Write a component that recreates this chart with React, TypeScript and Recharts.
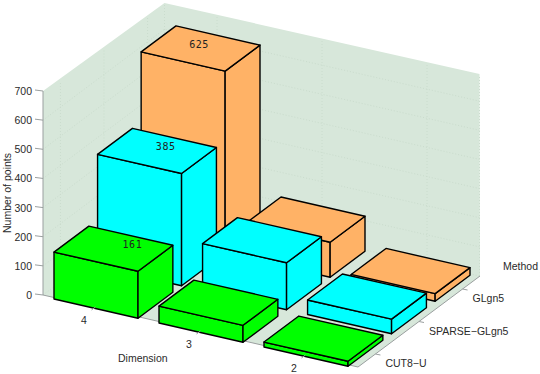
import { BarChart, Bar, XAxis, YAxis, CartesianGrid } from 'recharts';

// values
const dimensions = ['4', '3', '2'];
const methods = ['CUT8\u2212U', 'SPARSE\u2212GLgn5', 'GLgn5'];
const cut8u = [161, 58, 17];
const sparse = [385, 161, 50];
const glgn5 = [625, 120, 26];
const valueTicks = [0, 100, 200, 300, 400, 500, 600, 700];

const tableData = dimensions.map((dimension, i) => ({
  dimension,
  cut8u: cut8u[i],
  sparse: sparse[i],
  glgn5: glgn5[i]
}));

// plot rect: bars come out of the band/linear scales here, then get sheared into the 3D view
const LEFT = 43;
const TOP = 91;
const PLOT_W = 315;
const PLOT_H = 204;
const BAR_W = 84;
const SHEAR = 72 / 315; // floor drop per px along the dimension axis
const STEP_X = 43.57; // one method row on screen
const STEP_Y = -32.5;
const DEPTH = 0.8;
const BAR_DROP = 1.5;
const WALL_X = 121.5; // back corner relative to the left corner
const WALL_Y = -91;
const SIDE_X = 437; // end of the floor's method edge, from the left corner
const SIDE_Y = -19;

const INK = '#2a2a2a';
const AXIS = '#9a9f9f';
const WALL = '#d7e7da';
const GRID = '#cadccd';
const FONT = 'Liberation Sans, Arial, sans-serif';

const pts = (list: number[][]) => list.map((p) => p.join(',')).join(' ');

const makeBox = (row: number, fill: string) => (props: any) => {
  const { x, y, width, height, payload } = props;
  const sx = x + STEP_X * row;
  const base = y + height + (x - LEFT) * SHEAR + STEP_Y * row + BAR_DROP;
  const dx = STEP_X * DEPTH;
  const dy = STEP_Y * DEPTH;
  const wy = width * SHEAR;
  const a = [sx, base];
  const b = [sx + width, base + wy];
  const c = [sx + width + dx, base + wy + dy];
  const at = [sx, base - height];
  const bt = [sx + width, base + wy - height];
  const ct = [sx + width + dx, base + wy + dy - height];
  const dt = [sx + dx, base + dy - height];
  const face = { fill, stroke: '#000', strokeWidth: 1.4, strokeLinejoin: 'round' as const };
  return (
    <g>
      <polygon points={pts([a, b, bt, at])} {...face} />
      <polygon points={pts([b, c, ct, bt])} {...face} />
      <polygon points={pts([at, bt, ct, dt])} {...face} />
      {payload.dimension === dimensions[0] && (
        <text
          x={(at[0] + ct[0]) / 2 + 19 - 10.25 * row}
          y={(at[1] + ct[1]) / 2 - 0.5}
          textAnchor="middle"
          fontSize={10}
          letterSpacing={0.6}
          fill="#222"
          fontFamily="DejaVu Sans Mono, monospace"
        >
          {(row === 0 ? cut8u : row === 1 ? sparse : glgn5)[0]}
        </text>
      )}
    </g>
  );
};

const Walls = () => {
  const bottom = TOP + PLOT_H;
  return (
    <polygon
      points={pts([
        [LEFT, TOP],
        [LEFT + WALL_X, TOP + WALL_Y + 3],
        [LEFT + WALL_X + PLOT_W, TOP + WALL_Y + 3 + PLOT_W * SHEAR - 1],
        [LEFT + SIDE_X, bottom + SIDE_Y],
        [LEFT + PLOT_W, bottom + PLOT_W * SHEAR],
        [LEFT, bottom]
      ])}
      fill={WALL}
    />
  );
};

// one dotted line across both back walls, for a value tick (first call also paints the walls)
const WallLine = (props: any) => {
  const { y1, index } = props;
  return (
    <g>
      {index === 0 && <Walls />}
      {y1 > TOP + 1 && (
        <polyline
          points={pts([
            [LEFT, y1],
            [LEFT + WALL_X, y1 + WALL_Y],
            [LEFT + WALL_X + PLOT_W, y1 + WALL_Y + PLOT_W * SHEAR]
          ])}
          fill="none"
          stroke={GRID}
          strokeDasharray="1 2"
        />
      )}
    </g>
  );
};

// dotted upright on the back wall, for a dimension tick
const WallUpright = (props: any) => {
  const { x1, index } = props;
  const wx = x1 + WALL_X;
  const floor = TOP + PLOT_H + WALL_Y + (x1 - LEFT) * SHEAR;
  const bottom = TOP + PLOT_H;
  return (
    <g>
      <line x1={wx} y1={floor} x2={wx} y2={floor - PLOT_H + 3} stroke={GRID} strokeDasharray="1 2" />
      {/* same lines on the left wall, one per method */}
      {index === 0 &&
        methods.map((name, i) => {
          const mx = LEFT + STEP_X * (i + 0.4);
          const my = bottom + STEP_Y * (i + 0.4);
          return (
            <line key={name} x1={mx} y1={my} x2={mx} y2={my - PLOT_H + 3} stroke={GRID} strokeDasharray="1 2" />
          );
        })}
    </g>
  );
};

const ValueTick = (props: any) => {
  const { y, payload } = props;
  return (
    <g>
      <line x1={LEFT} y1={y} x2={LEFT - 8} y2={y - 1} stroke={AXIS} />
      <text x={LEFT - 11} y={y + 4} textAnchor="end" fontSize={10.5} fill={INK} fontFamily={FONT}>
        {payload.value}
      </text>
    </g>
  );
};

const DimensionTick = (props: any) => {
  const { x, payload } = props;
  const ay = TOP + PLOT_H + (x - LEFT) * SHEAR;
  return (
    <g>
      <line x1={x} y1={ay} x2={x - 4} y2={ay + 3} stroke={AXIS} />
      <text x={x - 11.5} y={ay + 16.5} textAnchor="middle" fontSize={10.5} fill={INK} fontFamily={FONT}>
        {payload.value}
      </text>
    </g>
  );
};

const Decor = () => {
  const bottom = TOP + PLOT_H;
  const front = [LEFT + PLOT_W, bottom + PLOT_W * SHEAR];
  return (
    <g>
      <line x1={LEFT} y1={TOP} x2={LEFT} y2={bottom} stroke={AXIS} />
      <line x1={LEFT} y1={bottom} x2={front[0]} y2={front[1]} stroke={AXIS} />
      <line x1={front[0]} y1={front[1]} x2={LEFT + SIDE_X} y2={bottom + SIDE_Y} stroke={AXIS} />
      {methods.map((name, i) => {
        const tx = front[0] + STEP_X * (i + 0.4);
        const ty = front[1] + STEP_Y * (i + 0.4);
        return (
          <g key={name}>
            <line x1={tx} y1={ty} x2={tx + 5} y2={ty + 1} stroke={AXIS} />
            <text x={tx + 10} y={ty + 13} fontSize={10.5} fill={INK} fontFamily={FONT}>
              {name}
            </text>
          </g>
        );
      })}
      <text x={118} y={362} fontSize={10.5} fill={INK} fontFamily={FONT}>
        Dimension
      </text>
      <text x={503} y={270} fontSize={10.5} fill={INK} fontFamily={FONT}>
        Method
      </text>
      <text
        transform="translate(11,193) rotate(-90)"
        textAnchor="middle"
        fontSize={10.5}
        fill={INK}
        fontFamily={FONT}
      >
        Number of points
      </text>
    </g>
  );
};

export default function App() {
  return (
    <div style={{ position: 'absolute', left: 0, top: 0 }}>
      <BarChart
        width={540}
        height={374}
        data={tableData}
        margin={{ top: TOP, right: 540 - LEFT - PLOT_W, left: 0, bottom: 0 }}
        barSize={BAR_W}
        barGap={-BAR_W}
        style={{ fontFamily: FONT }}
      >
        <CartesianGrid horizontal={WallLine} vertical={WallUpright} />
        <XAxis
          dataKey="dimension"
          height={374 - TOP - PLOT_H}
          axisLine={false}
          tickLine={false}
          tick={DimensionTick}
        />
        <YAxis
          domain={[0, 700]}
          ticks={valueTicks}
          interval={0}
          width={LEFT}
          axisLine={false}
          tickLine={false}
          tick={ValueTick}
        />
        <Decor />
        <Bar dataKey="glgn5" isAnimationActive={false} shape={makeBox(2, '#ffb266')} />
        <Bar dataKey="sparse" isAnimationActive={false} shape={makeBox(1, '#00ffff')} />
        <Bar dataKey="cut8u" isAnimationActive={false} shape={makeBox(0, '#00ff00')} />
      </BarChart>
    </div>
  );
}
